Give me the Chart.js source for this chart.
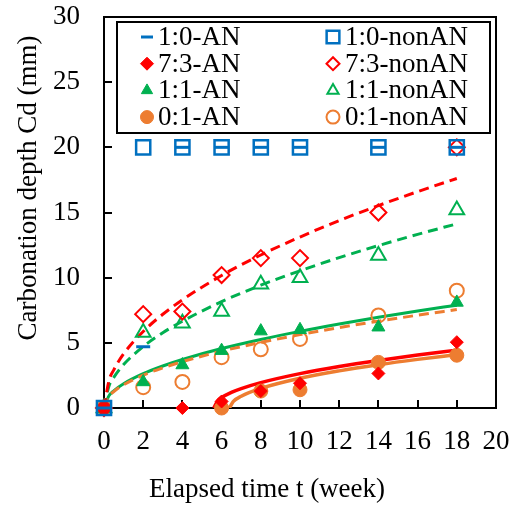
<!DOCTYPE html>
<html lang="en">

<head>
    <meta charset="UTF-8">
    <meta name="viewport" content="width=device-width, initial-scale=1.0">
    <script src="https://cdn.jsdelivr.net/npm/chart.js"></script>
    <title>Carbonation depth</title>
    <style>
        body { margin: 0; background: #fff; }
    </style>
</head>

<body>
    <canvas id="myChart" width="518" height="507"></canvas>
</body>

</html>

<script>

    // measured points (week / mm)
    const weeks = [0, 2, 4, 6, 8, 10, 14, 18];
    const an10 = [0, 4.7, 20, 20, 20, 20, 20, 20];
    const nonan10 = [0, 20, 20, 20, 20, 20, 20, 20];
    const an73 = [0, null, 0, 0.5, 1.3, 1.9, 2.65, 5.05];
    const nonan73 = [0, 7.2, 7.4, 10.2, 11.5, 11.5, 15.0, 20.0];
    const an11 = [0, 2.0, 3.3, 4.4, 5.9, 6.0, 6.2, 8.1];
    const nonan11 = [0, 5.8, 6.5, 7.4, 9.5, 10.0, 11.7, 15.2];
    const an01 = [0, null, null, 0, 1.3, 1.4, 3.5, 4.05];
    const nonan01 = [0, 1.6, 2.0, 3.9, 4.5, 5.3, 7.1, 9.0];

    // fitted curves
    const fitWeeks = [0, 0.25, 0.5, 1, 2, 3, 4, 6, 8, 10, 12, 14, 16, 18];
    const fitNonan73 = [0, 2.08, 2.93, 4.15, 5.87, 7.19, 8.30, 10.17, 11.74, 13.12, 14.38, 15.53, 16.60, 17.61];
    const fitNonan11 = [0, 1.67, 2.35, 3.33, 4.71, 5.77, 6.66, 8.16, 9.42, 10.53, 11.54, 12.46, 13.32, 14.13];
    const fitAn11 = [0, 0.93, 1.32, 1.86, 2.63, 3.22, 3.72, 4.56, 5.26, 5.88, 6.44, 6.96, 7.44, 7.89];
    const fitNonan01 = [0, 0.89, 1.26, 1.78, 2.52, 3.08, 3.56, 4.36, 5.03, 5.63, 6.17, 6.66, 7.12, 7.55];
    const fitAn73Weeks = [5.6, 5.8, 6, 6.5, 7, 8, 10, 12, 14, 16, 18];
    const fitAn73 = [0, 0.56, 0.80, 1.20, 1.49, 1.95, 2.64, 3.19, 3.65, 4.06, 4.44];
    const fitAn01Weeks = [6.4, 6.6, 7, 8, 10, 12, 14, 16, 18];
    const fitAn01 = [0, 0.5, 0.9, 1.5, 2.28, 2.85, 3.32, 3.73, 4.1];

    const xTicks = [0, 2, 4, 6, 8, 10, 12, 14, 16, 18, 20];
    const yTicks = [0, 5, 10, 15, 20, 25, 30];

    const BLUE = '#0070C0', RED = '#FF0000', GREEN = '#00B050', ORANGE = '#ED7D31';
    const FONT = "'Liberation Serif', 'Times New Roman', serif";

    function pts(xs, ys) {
        return xs.map((x, i) => ({ x: x, y: ys[i] })).filter(p => p.y !== null);
    }

    function marks(label, ys, style, color, radius, filled, bw) {
        return {
            label: label,
            data: pts(weeks, ys),
            showLine: false,
            clip: false,
            pointStyle: style,
            pointRadius: radius,
            pointHoverRadius: radius,
            pointBorderWidth: bw,
            pointBorderColor: color,
            pointBackgroundColor: filled ? color : 'rgba(0,0,0,0)',
            borderColor: color,
            backgroundColor: filled ? color : 'rgba(0,0,0,0)',
            order: 0
        };
    }

    function fit(xs, ys, color, dashed, width) {
        return {
            label: 'fit',
            isFit: true,
            data: pts(xs, ys),
            showLine: true,
            pointRadius: 0,
            borderColor: color,
            borderWidth: width,
            borderDash: dashed ? [10, 6] : [],
            cubicInterpolationMode: 'monotone',
            order: 1
        };
    }

    const datasets = [
        marks('1:0-AN', an10, 'line', BLUE, 7, true, 3),
        marks('1:0-nonAN', nonan10, 'rect', BLUE, 10, false, 2.5),
        marks('7:3-AN', an73, 'rectRot', RED, 6.5, true, 1),
        marks('7:3-nonAN', nonan73, 'rectRot', RED, 8, false, 2),
        marks('1:1-AN', an11, 'triangle', GREEN, 7.5, true, 1),
        marks('1:1-nonAN', nonan11, 'triangle', GREEN, 8.5, false, 2),
        marks('0:1-AN', an01, 'circle', ORANGE, 7, true, 1),
        marks('0:1-nonAN', nonan01, 'circle', ORANGE, 7, false, 2),
        fit(fitWeeks, fitNonan73, RED, true, 3),
        fit(fitWeeks, fitNonan11, GREEN, true, 3),
        fit(fitWeeks, fitNonan01, ORANGE, true, 3),
        fit(fitWeeks, fitAn11, GREEN, false, 3),
        fit(fitAn01Weeks, fitAn01, ORANGE, false, 3.5),
        fit(fitAn73Weeks, fitAn73, RED, false, 3.5)
    ];

    // frame, inward ticks, axis titles and the boxed legend
    const framePlugin = {
        id: 'frame',
        beforeDatasetsDraw(chart) {
            const ctx = chart.ctx;
            const a = chart.chartArea;
            const xs = chart.scales.x, ys = chart.scales.y;
            ctx.save();
            ctx.strokeStyle = '#000';
            ctx.lineWidth = 2;
            ctx.strokeRect(a.left, a.top, a.right - a.left, a.bottom - a.top);
            ctx.beginPath();
            xTicks.slice(1, -1).forEach(v => {
                const px = Math.round(xs.getPixelForValue(v));
                ctx.moveTo(px, a.bottom);
                ctx.lineTo(px, a.bottom - 8);
            });
            yTicks.slice(1, -1).forEach(v => {
                const py = Math.round(ys.getPixelForValue(v));
                ctx.moveTo(a.left, py);
                ctx.lineTo(a.left + 8, py);
            });
            ctx.stroke();

            ctx.fillStyle = '#000';
            ctx.font = '27px ' + FONT;
            ctx.textAlign = 'center';
            ctx.textBaseline = 'middle';
            ctx.fillText('Elapsed time t (week)', 267, 490);
            ctx.translate(29, 188);
            ctx.rotate(-Math.PI / 2);
            ctx.fillText('Carbonation depth Cd (mm)', 0, 0);
            ctx.restore();
        },
        afterDraw(chart) {
            const ctx = chart.ctx;
            // legend
            ctx.save();
            ctx.fillStyle = '#fff';
            ctx.fillRect(117, 22, 373, 111);
            ctx.strokeStyle = '#000';
            ctx.lineWidth = 2;
            ctx.strokeRect(117, 22, 373, 111);
            const items = chart.data.datasets.filter(d => !d.isFit);
            items.forEach((d, i) => {
                const col = i % 2, row = Math.floor(i / 2);
                const mx = col === 0 ? 147 : 333;
                const tx = col === 0 ? 158 : 345;
                const my = 37 + row * 26.7;
                ctx.fillStyle = d.pointBackgroundColor;
                ctx.strokeStyle = d.pointBorderColor;
                ctx.lineWidth = d.pointBorderWidth;
                const r = d.pointStyle === 'line' ? 6 : (d.pointStyle === 'rect' ? 9 : 6.5);
                Chart.helpers.drawPoint(ctx, { pointStyle: d.pointStyle, radius: r, borderWidth: d.pointBorderWidth, rotation: 0 }, mx, my);
                ctx.fillStyle = '#000';
                ctx.font = '27px ' + FONT;
                ctx.textAlign = 'left';
                ctx.textBaseline = 'middle';
                ctx.fillText(d.label, tx, my + 1);
            });
            ctx.restore();
        }
    };

    const config = {
        type: 'scatter',
        data: { datasets: datasets },
        options: {
            responsive: false,
            animation: false,
            layout: { padding: { top: 17, right: 22, left: 0, bottom: 0 } },
            plugins: {
                legend: { display: false },
                tooltip: { enabled: false }
            },
            scales: {
                x: {
                    type: 'linear',
                    min: 0,
                    max: 20,
                    afterFit: s => { s.height = 99; },
                    afterBuildTicks: s => { s.ticks = xTicks.map(v => ({ value: v })); },
                    grid: { display: true, drawOnChartArea: false, drawTicks: true, tickLength: 18, tickColor: 'rgba(0,0,0,0)' },
                    border: { display: false },
                    ticks: { color: '#000', padding: 0, maxRotation: 0, font: { family: FONT, size: 27 } }
                },
                y: {
                    type: 'linear',
                    min: 0,
                    max: 30,
                    afterFit: s => { s.width = 104; },
                    afterBuildTicks: s => { s.ticks = yTicks.map(v => ({ value: v })); },
                    grid: { display: true, drawOnChartArea: false, drawTicks: true, tickLength: 24, tickColor: 'rgba(0,0,0,0)' },
                    border: { display: false },
                    ticks: { color: '#000', padding: 0, font: { family: FONT, size: 27 } }
                }
            }
        },
        plugins: [framePlugin]
    };

    const myChart = new Chart(
        document.getElementById('myChart'),
        config
    );

</script>
